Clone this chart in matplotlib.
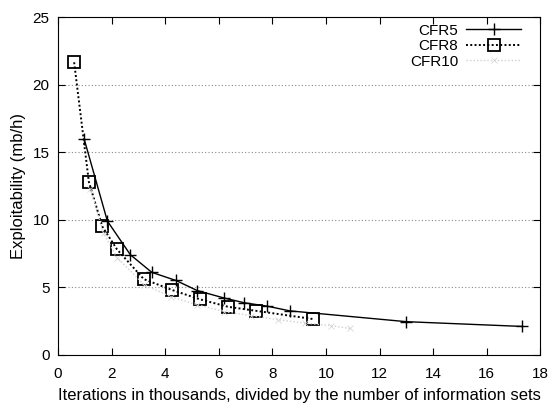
import matplotlib.pyplot as plt

plt.rcParams['font.family'] = ['Liberation Sans', 'DejaVu Sans']
plt.rcParams['font.size'] = 11

# exploitability curves (mb/h) vs. iterations per information set (thousands)
cfr5_x = [0.97, 1.84, 2.7, 3.5, 4.4, 5.2, 6.2, 6.95, 7.8, 8.65, 13.0, 17.3]
cfr5_y = [16.0, 9.9, 7.4, 6.1, 5.5, 4.75, 4.2, 3.85, 3.6, 3.25, 2.45, 2.1]

cfr8_x = [0.6, 1.15, 1.65, 2.2, 3.2, 4.25, 5.3, 6.35, 7.4, 9.5]
cfr8_y = [21.65, 12.8, 9.5, 7.8, 5.6, 4.8, 4.1, 3.55, 3.25, 2.65]

cfr10_x = [1.2, 1.7, 2.2, 3.2, 4.2, 5.2, 6.2, 7.2, 8.2, 9.2, 10.2, 10.9]
cfr10_y = [12.3, 9.0, 7.2, 5.2, 4.3, 3.7, 3.2, 2.9, 2.6, 2.35, 2.15, 1.95]

fig = plt.figure(figsize=(5.53, 4.05), dpi=100)
ax = fig.add_axes([0.105, 0.124, 0.872, 0.834])

ax.plot(cfr5_x, cfr5_y, color='black', lw=1.0, marker='+', ms=9, mew=1.0,
        label='CFR5')
ax.plot(cfr8_x, cfr8_y, color='black', lw=1.4, ls=(0, (1, 1.2)), marker='s',
        ms=8, mfc='none', mew=1.3, label='CFR8')
ax.plot(cfr10_x, cfr10_y, color='#d0d0d0', lw=1.0, ls=(0, (1, 1.5)),
        marker='x', ms=4, mew=0.5, label='CFR10')

ax.set_xlim(0, 18)
ax.set_ylim(0, 25)
ax.set_xticks(range(0, 19, 2))
ax.set_yticks(range(0, 26, 5))
ax.tick_params(axis='x', direction='in', length=5, top=True, pad=9)
ax.tick_params(axis='y', direction='in', length=5, right=True, pad=6)
ax.grid(axis='y', color='#888888', ls=(0, (1, 2)), lw=0.8)
ax.set_axisbelow(True)

ax.set_xlabel('Iterations in thousands, divided by the number of information sets',
              fontsize=12, labelpad=5)
ax.set_ylabel('Exploitability (mb/h)', fontsize=12, labelpad=5)

ax.legend(loc='upper right', bbox_to_anchor=(0.965, 0.987), frameon=False,
          markerfirst=False, fontsize=11, handlelength=3.6, labelspacing=0.1,
          borderpad=0.15, borderaxespad=0, handletextpad=0.5)

fig.savefig('out.png', dpi=100)
